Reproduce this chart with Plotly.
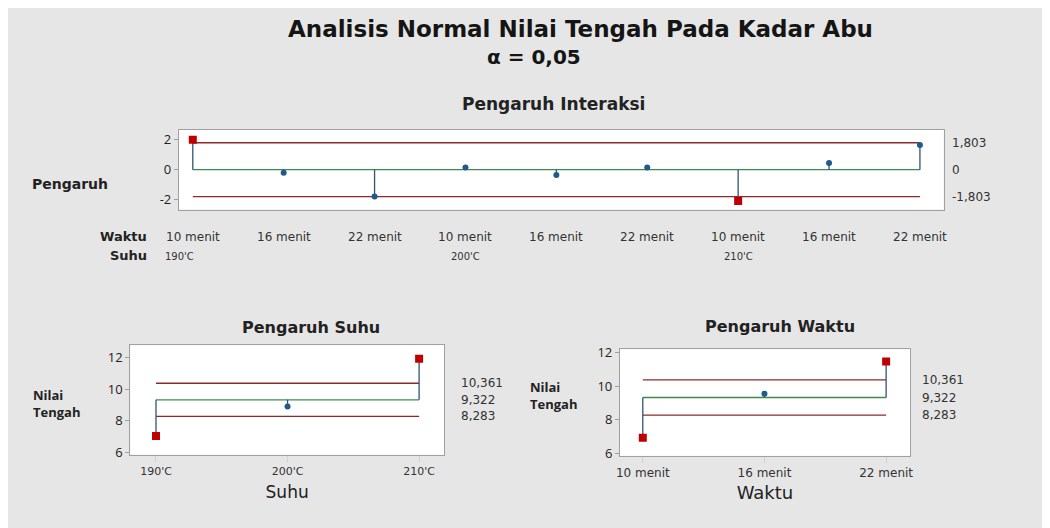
import plotly.graph_objects as go

# ---------------- data ----------------
waktu_labels = ["10 menit", "16 menit", "22 menit"] * 3
suhu_groups = ["190'C", "200'C", "210'C"]
interaksi_values = [2.0, -0.2, -1.8, 0.15, -0.35, 0.15, -2.1, 0.45, 1.65]
interaksi_center = 0.0
interaksi_limit = 1.803

suhu_labels = ["190'C", "200'C", "210'C"]
suhu_means = [7.05, 8.9, 11.9]

waktu_cats = ["10 menit", "16 menit", "22 menit"]
waktu_means = [6.95, 9.55, 11.45]

center_mean = 9.322
upper_mean = 10.361
lower_mean = 8.283

# ---------------- styles ----------------
BG = "#e6e6e6"
RED = "#c00000"
BLUE = "#1f5a8a"
STEM = "#2f5570"
GREEN = "#3c8c50"
LIM = "#8c2a2a"
FONT = "DejaVu Sans"
FONT2 = "Open Sans"

fig = go.Figure()


def add_panel(xs, vals, center, lo, hi, xa, ya):
    x0, x1 = xs[0], xs[-1]
    for v in (hi, lo):
        fig.add_trace(go.Scatter(x=[x0, x1], y=[v, v], mode="lines",
                                 line=dict(color=LIM, width=1.3),
                                 xaxis=xa, yaxis=ya, hoverinfo="skip"))
    fig.add_trace(go.Scatter(x=[x0, x1], y=[center, center], mode="lines",
                             line=dict(color=GREEN, width=1.3),
                             xaxis=xa, yaxis=ya, hoverinfo="skip"))
    sx, sy = [], []
    for x, v in zip(xs, vals):
        sx += [x, x, None]
        sy += [center, v, None]
    fig.add_trace(go.Scatter(x=sx, y=sy, mode="lines",
                             line=dict(color=STEM, width=1.3),
                             xaxis=xa, yaxis=ya, hoverinfo="skip"))
    out = [(v > hi or v < lo) for v in vals]
    fig.add_trace(go.Scatter(x=[x for x, o in zip(xs, out) if o],
                             y=[v for v, o in zip(vals, out) if o],
                             mode="markers",
                             marker=dict(symbol="square", size=8, color=RED),
                             xaxis=xa, yaxis=ya))
    fig.add_trace(go.Scatter(x=[x for x, o in zip(xs, out) if not o],
                             y=[v for v, o in zip(vals, out) if not o],
                             mode="markers",
                             marker=dict(symbol="circle", size=6, color=BLUE),
                             xaxis=xa, yaxis=ya))


idx_top = list(range(len(interaksi_values)))
add_panel(idx_top, interaksi_values, interaksi_center,
          -interaksi_limit, interaksi_limit, "x", "y")
add_panel([0, 1, 2], suhu_means, center_mean, lower_mean, upper_mean, "x2", "y2")
add_panel([0, 1, 2], waktu_means, center_mean, lower_mean, upper_mean, "x3", "y3")

W, H = 1050, 528


def px(x):
    return (x - 8) / W


def py(y):
    return 1 - ((y - 12.8) / 0.9785) / H


axis_common = dict(showgrid=False, zeroline=False, showline=True, mirror=True,
                   linecolor="#a0a0a0", linewidth=1)

fig.update_layout(
    width=W, height=H, margin=dict(l=0, r=0, t=0, b=0),
    paper_bgcolor=BG, plot_bgcolor="white", showlegend=False,
    font=dict(family=FONT, color="#222222"),
    xaxis=dict(domain=[px(176), px(946)], range=[-0.153, 8.262],
               showticklabels=False, ticks="", **axis_common),
    yaxis=dict(domain=[py(209), py(129)], range=[-2.667, 2.667],
               tickvals=[-2, 0, 2], ticktext=["-2", "0", "2"],
               ticks="outside", ticklen=4, tickcolor="#a0a0a0",
               tickfont=dict(size=13, family=FONT2), **axis_common),
    xaxis2=dict(domain=[px(127), px(443)], range=[-0.196, 2.19],
                tickvals=[0, 1, 2], ticktext=suhu_labels,
                ticks="outside", ticklen=6, tickcolor="#d0d0d0",
                tickfont=dict(size=11, family=FONT, color="#333"),
                title=dict(text="Suhu", font=dict(size=17, family=FONT), standoff=9),
                anchor="y2", **axis_common),
    yaxis2=dict(domain=[py(455), py(345)], range=[5.875, 12.75],
                tickvals=[6, 8, 10, 12], ticks="outside", ticklen=4,
                tickcolor="#a0a0a0", tickfont=dict(size=13, family=FONT2),
                anchor="x2", **axis_common),
    xaxis3=dict(domain=[px(620), px(912)], range=[-0.188, 2.196],
                tickvals=[0, 1, 2], ticktext=waktu_cats,
                ticks="outside", ticklen=6, tickcolor="#d0d0d0",
                tickfont=dict(size=12, family=FONT, color="#333"),
                title=dict(text="Waktu", font=dict(size=18, family=FONT), standoff=7),
                anchor="y3", **axis_common),
    yaxis3=dict(domain=[py(456), py(349)], range=[5.88, 12.18],
                tickvals=[6, 8, 10, 12], ticks="outside", ticklen=4,
                tickcolor="#a0a0a0", tickfont=dict(size=13, family=FONT2),
                anchor="x3", **axis_common),
)

ann = []


def A(text, x, y, size, xanchor="center", yanchor="middle", family=FONT,
      bold=False, color="#222222"):
    if bold:
        text = "<b>" + text + "</b>"
    ann.append(dict(text=text, x=x, y=y, xref="paper", yref="paper",
                    showarrow=False, xanchor=xanchor, yanchor=yanchor,
                    align="left" if xanchor == "left" else "center",
                    font=dict(size=size, family=family, color=color)))


A("Analisis Normal Nilai Tengah Pada Kadar Abu", px(580), py(28), 23,
  bold=True, color="#151515")
A("α = 0,05", px(533), py(56), 20, bold=True, color="#151515")
A("Pengaruh Interaksi", px(553), py(103), 17, bold=True)
A("Pengaruh", px(26), py(183), 14, xanchor="left", bold=True)

for v, t in [(interaksi_limit, "1,803"), (interaksi_center, "0"),
             (-interaksi_limit, "-1,803")]:
    ann.append(dict(text=t, x=px(952), y=v, xref="paper", yref="y",
                    showarrow=False, xanchor="left", yanchor="middle",
                    font=dict(size=12, family=FONT, color="#333")))

A("Waktu", px(146), py(236), 13, xanchor="right", bold=True)
A("Suhu", px(146), py(255), 13, xanchor="right", bold=True)
for i, lab in enumerate(waktu_labels):
    ann.append(dict(text=lab, x=i, y=py(237), xref="x", yref="paper",
                    showarrow=False, xanchor="center", yanchor="middle",
                    font=dict(size=12, family=FONT, color="#333")))
for g, lab in enumerate(suhu_groups):
    ann.append(dict(text=lab, x=g * 3, y=py(256), xref="x", yref="paper",
                    showarrow=False, xanchor="center", yanchor="middle",
                    xshift=-13 if g == 0 else 0,
                    font=dict(size=10, family=FONT, color="#333")))

A("Pengaruh Suhu", px(309), py(327), 16, bold=True)
A("Pengaruh Waktu", px(781), py(326), 16, bold=True)
A("Nilai<br>Tengah", px(27), py(404), 13, xanchor="left", family=FONT2, bold=True)
A("Nilai<br>Tengah", px(527), py(396), 13, xanchor="left", family=FONT2, bold=True)

for yref, xpos in [("y2", px(458)), ("y3", px(922))]:
    for v, t in [(upper_mean, "10,361"), (center_mean, "9,322"),
                 (lower_mean, "8,283")]:
        ann.append(dict(text=t, x=xpos, y=v, xref="paper", yref=yref,
                        showarrow=False, xanchor="left", yanchor="middle",
                        font=dict(size=12, family=FONT, color="#333")))

fig.update_layout(annotations=ann)
fig.write_html("out.html")
